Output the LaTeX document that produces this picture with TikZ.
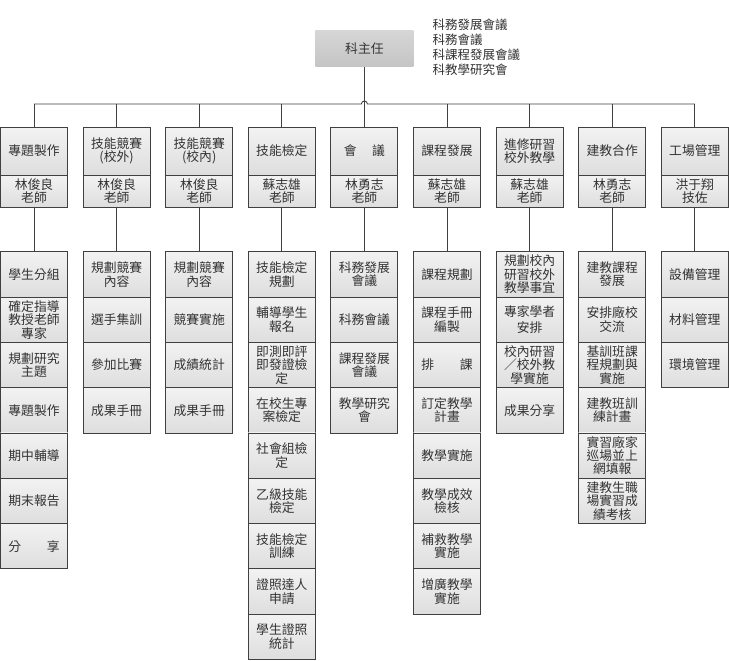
\documentclass[tikz,border=0pt]{standalone}
\usepackage{fontspec}
\usepackage{xcolor}
\newfontfamily\cjk{Noto Sans CJK TC}

\begin{document}
\begin{tikzpicture}[x=1pt, y=-1pt,
    box/.style={draw=black!75, line width=0.9pt, top color=black!5, bottom color=black!13,
        minimum width=67pt, inner sep=0pt, align=center, text=black!80,
        font=\cjk\fontsize{12.8}{13.4}\selectfont},
    head/.style={box, minimum height=48pt},
    who/.style={box, minimum height=32pt},
    job/.style={box, minimum height=45.3pt},
    wire/.style={draw=black!75, line width=0.9pt}]
    \useasboundingbox (0,0) rectangle (729,661);

    % Department head and meetings
    \node[box, draw=none, top color=black!16, bottom color=black!23, minimum width=98pt, minimum height=36pt] (boss) at (364.4,48.5) {科主任};
    \node[anchor=west, align=left, text=black!80, font=\cjk\fontsize{12.5}{15}\selectfont] (mtg) at (429,47) {科務發展會議\\科務會議\\科課程發展會議\\科教學研究會};

    % Groups
    \node[head] (top1) at (34,151) {專題製作};
    \node[head] (top2) at (116.6,151) {技能競賽\\(校外)};
    \node[head] (top3) at (199.2,151) {技能競賽\\(校內)};
    \node[head] (top4) at (281.8,151) {技能檢定};
    \node[head] (top5) at (364.4,151) {會\hspace{1.2em}議};
    \node[head] (top6) at (447,151) {課程發展};
    \node[head] (top7) at (529.6,151) {進修研習\\校外教學};
    \node[head] (top8) at (612.2,151) {建教合作};
    \node[head] (top9) at (694.8,151) {工場管理};

    % Teachers
    \node[who] (who1) at (34,191) {林俊良\\老師};
    \node[who] (who2) at (116.6,191) {林俊良\\老師};
    \node[who] (who3) at (199.2,191) {林俊良\\老師};
    \node[who] (who4) at (281.8,191) {蘇志雄\\老師};
    \node[who] (who5) at (364.4,191) {林勇志\\老師};
    \node[who] (who6) at (447,191) {蘇志雄\\老師};
    \node[who] (who7) at (529.6,191) {蘇志雄\\老師};
    \node[who] (who8) at (612.2,191) {林勇志\\老師};
    \node[who] (who9) at (694.8,191) {洪于翔\\技佐};

    % Tasks
    \node[job] (a1) at (34,274.4) {學生分組};
    \node[job] (a2) at (34,319.7) {確定指導\\教授老師\\專家};
    \node[job] (a3) at (34,365.0) {規劃研究\\主題};
    \node[job] (a4) at (34,410.3) {專題製作};
    \node[job] (a5) at (34,455.6) {期中輔導};
    \node[job] (a6) at (34,500.9) {期末報告};
    \node[job] (a7) at (34,546.2) {分\hspace{2em}享};

    \node[job] (b1) at (116.6,274.4) {規劃競賽\\內容};
    \node[job] (b2) at (116.6,319.7) {選手集訓};
    \node[job] (b3) at (116.6,365.0) {參加比賽};
    \node[job] (b4) at (116.6,410.3) {成果手冊};

    \node[job] (c1) at (199.2,274.4) {規劃競賽\\內容};
    \node[job] (c2) at (199.2,319.7) {競賽實施};
    \node[job] (c3) at (199.2,365.0) {成績統計};
    \node[job] (c4) at (199.2,410.3) {成果手冊};

    \node[job] (d1) at (281.8,274.4) {技能檢定\\規劃};
    \node[job] (d2) at (281.8,319.7) {輔導學生\\報名};
    \node[job] (d3) at (281.8,365.0) {即測即評\\即發證檢\\定};
    \node[job] (d4) at (281.8,410.3) {在校生專\\案檢定};
    \node[job] (d5) at (281.8,455.6) {社會組檢\\定};
    \node[job] (d6) at (281.8,500.9) {乙級技能\\檢定};
    \node[job] (d7) at (281.8,546.2) {技能檢定\\訓練};
    \node[job] (d8) at (281.8,591.5) {證照達人\\申請};
    \node[job] (d9) at (281.8,636.8) {學生證照\\統計};

    \node[job] (e1) at (364.4,274.4) {科務發展\\會議};
    \node[job] (e2) at (364.4,319.7) {科務會議};
    \node[job] (e3) at (364.4,365.0) {課程發展\\會議};
    \node[job] (e4) at (364.4,410.3) {教學研究\\會};

    \node[job] (f1) at (447,274.4) {課程規劃};
    \node[job] (f2) at (447,319.7) {課程手冊\\編製};
    \node[job] (f3) at (447,365.0) {排\hspace{2em}課};
    \node[job] (f4) at (447,410.3) {訂定教學\\計畫};
    \node[job] (f5) at (447,455.6) {教學實施};
    \node[job] (f6) at (447,500.9) {教學成效\\檢核};
    \node[job] (f7) at (447,546.2) {補救教學\\實施};
    \node[job] (f8) at (447,591.5) {增廣教學\\實施};

    \node[job] (g1) at (529.6,274.4) {規劃校內\\研習校外\\教學事宜};
    \node[job] (g2) at (529.6,319.7) {專家學者\\[2pt]安排};
    \node[job] (g3) at (529.6,365.0) {校內研習\\／校外教\\學實施};
    \node[job] (g4) at (529.6,410.3) {成果分享};

    \node[job] (h1) at (612.2,274.4) {建教課程\\發展};
    \node[job] (h2) at (612.2,319.7) {安排廠校\\交流};
    \node[job] (h3) at (612.2,365.0) {基訓班課\\程規劃與\\實施};
    \node[job] (h4) at (612.2,410.3) {建教班訓\\練計畫};
    \node[job] (h5) at (612.2,455.6) {實習廠家\\巡場並上\\網填報};
    \node[job] (h6) at (612.2,500.9) {建教生職\\場實習成\\績考核};

    \node[job] (i1) at (694.8,274.4) {設備管理};
    \node[job] (i2) at (694.8,319.7) {材料管理};
    \node[job] (i3) at (694.8,365.0) {環境管理};

    % Bus with a hop where the head line crosses it
    \coordinate (busL) at (34,104);
    \coordinate (hop) at (361.4,104);
    \coordinate (busR) at (694.8,104);
    \draw[wire] (busL) -- (hop) arc[start angle=180, end angle=360, radius=3] -- (busR);
    \draw[wire] (boss) -- (top5);
    \draw[wire] (top1) -- (top1 |- busL);
    \draw[wire] (top2) -- (top2 |- busL);
    \draw[wire] (top3) -- (top3 |- busL);
    \draw[wire] (top4) -- (top4 |- busL);
    \draw[wire] (top6) -- (top6 |- busL);
    \draw[wire] (top7) -- (top7 |- busL);
    \draw[wire] (top8) -- (top8 |- busL);
    \draw[wire] (top9) -- (top9 |- busL);

    % Teachers to tasks
    \draw[wire] (who1) -- (a1);
    \draw[wire] (who2) -- (b1);
    \draw[wire] (who3) -- (c1);
    \draw[wire] (who4) -- (d1);
    \draw[wire] (who5) -- (e1);
    \draw[wire] (who6) -- (f1);
    \draw[wire] (who7) -- (g1);
    \draw[wire] (who8) -- (h1);
    \draw[wire] (who9) -- (i1);
\end{tikzpicture}
\end{document}
